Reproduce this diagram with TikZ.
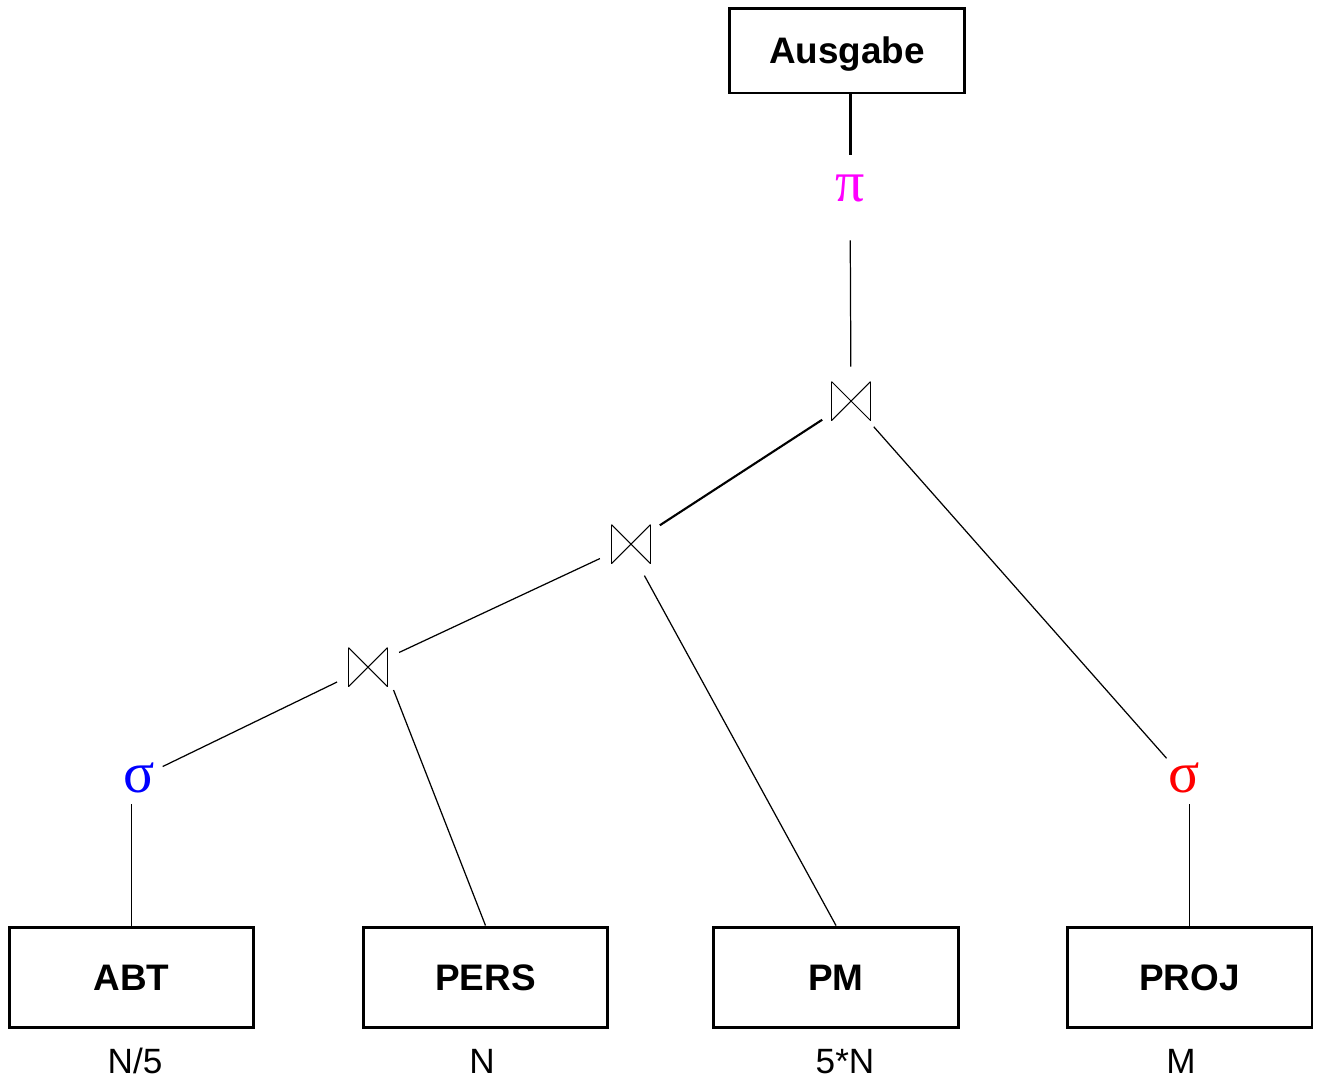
\documentclass[tikz,border=0pt]{standalone}
\usepackage{fontspec}
\setmainfont{Liberation Sans}
\newfontfamily\greekfont{Liberation Serif}
\begin{document}
\begin{tikzpicture}[x=0.02cm,y=-0.02cm,
    relbox/.style={draw,line width=1.7pt,minimum width=4.9cm,minimum height=2cm,
        text height=15pt,text depth=0pt,font=\fontsize{21}{25}\selectfont\bfseries},
    card/.style={anchor=base,font=\fontsize{20}{24}\selectfont},
    opsym/.style={circle,minimum size=1.04cm,inner sep=0pt,
        font=\greekfont\fontsize{33}{38}\selectfont},
    joinop/.style={circle,minimum size=1.36cm,inner sep=0pt,
        path picture={
            \draw[line width=1.1pt,shift={(path picture bounding box.center)}]
                (-0.39cm,-0.39cm) -- (-0.39cm,0.39cm) (0.39cm,-0.39cm) -- (0.39cm,0.39cm);
            \draw[line width=0.6pt,shift={(path picture bounding box.center)}]
                (-0.39cm,-0.39cm) -- (0.39cm,0.39cm) (-0.39cm,0.39cm) -- (0.39cm,-0.39cm);
        }},
    edge/.style={line width=0.7pt}]
    \useasboundingbox (0,0) rectangle (1318,1080);

    \node[relbox,minimum width=4.72cm,minimum height=1.7cm] (ausgabe) at (847,50.5) {Ausgabe};
    \node[opsym,minimum size=1.32cm,text={rgb,255:red,255;green,0;blue,255}] (pi) at (850,188) {π};
    \node[joinop] (joinA) at (851,401) {};
    \node[joinop] (joinB) at (631,544) {};
    \node[joinop] (joinC) at (368,667) {};
    \node[opsym,text={rgb,255:red,0;green,0;blue,255}] (selAbt) at (139,778) {σ};
    \node[opsym,text={rgb,255:red,255;green,0;blue,0}] (selProj) at (1184,778) {σ};

    \node[relbox] (abt) at (131.5,977) {ABT};
    \node[relbox] (pers) at (485.5,977) {PERS};
    \node[relbox] (pm) at (836,977) {PM};
    \node[relbox] (proj) at (1189.5,977) {PROJ};

    \node[card] (nAbt) at (135,1073) {N/5};
    \node[card] (nPers) at (482,1073) {N};
    \node[card] (nPm) at (845,1073) {5*N};
    \node[card] (nProj) at (1181,1073) {M};

    \draw[line width=1.7pt] (pi |- ausgabe.south) -- (pi);
    \draw[edge,shorten <=0.38cm] (pi) -- (joinA);
    \draw[line width=1.2pt] (joinA) -- (joinB);
    \draw[edge] (joinB) -- (joinC);
    \draw[edge] (joinC) -- (selAbt);
    \draw[edge] (abt.north) -- (abt.north |- selAbt.south);
    \draw[edge] (joinC.-42) -- (pers.north);
    \draw[edge] (joinB.-67) -- (pm.north);
    \draw[edge] (joinA) -- (selProj);
    \draw[edge] (proj.north) -- (proj.north |- selProj.south);
\end{tikzpicture}
\end{document}
